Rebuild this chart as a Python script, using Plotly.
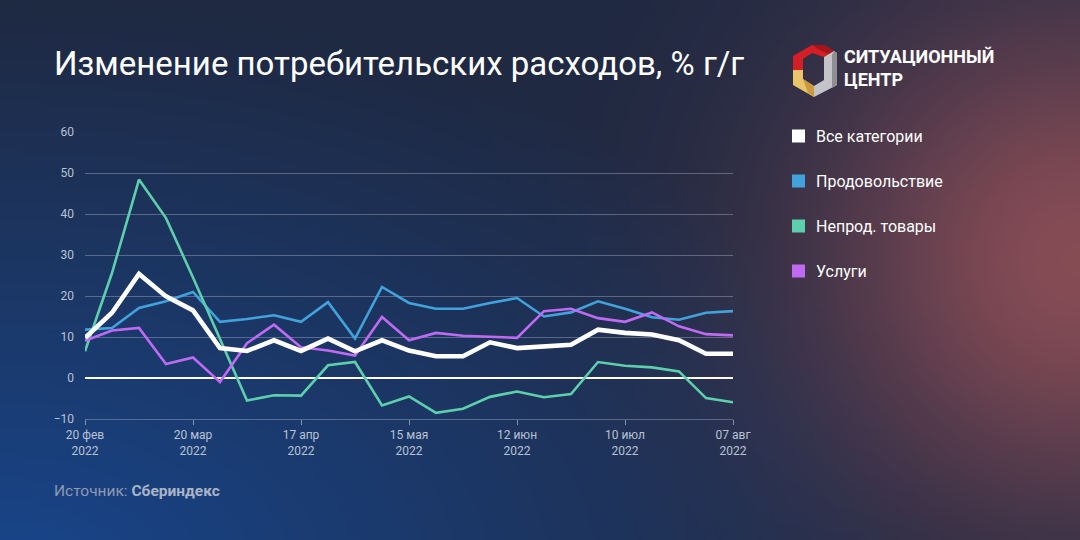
import base64
import struct
import zlib

import numpy as np
import plotly.graph_objects as go

# ---------------- data ----------------
dates = ["2022-02-20", "2022-02-27", "2022-03-06", "2022-03-13", "2022-03-20",
         "2022-03-27", "2022-04-03", "2022-04-10", "2022-04-17", "2022-04-24",
         "2022-05-01", "2022-05-08", "2022-05-15", "2022-05-22", "2022-05-29",
         "2022-06-05", "2022-06-12", "2022-06-19", "2022-06-26", "2022-07-03",
         "2022-07-10", "2022-07-17", "2022-07-24", "2022-07-31", "2022-08-07"]

all_categories = [9.8, 15.9, 25.4, 19.9, 16.5, 7.3, 6.6, 9.2, 6.6, 9.6, 6.5, 9.2, 6.7,
                  5.3, 5.3, 8.7, 7.3, 7.7, 8.1, 11.8, 11.0, 10.6, 9.2, 5.9, 5.9]
food = [11.8, 12.2, 17.1, 18.7, 21.0, 13.7, 14.4, 15.3, 13.7, 18.5, 9.6, 22.2, 18.3,
        16.9, 16.9, 18.3, 19.5, 15.0, 16.0, 18.7, 16.9, 14.8, 14.2, 15.9, 16.3]
non_food = [6.5, 25.6, 48.4, 39.0, 24.5, 9.5, -5.5, -4.2, -4.3, 3.1, 3.9, -6.7, -4.5,
            -8.5, -7.5, -4.6, -3.3, -4.7, -3.9, 3.9, 3.0, 2.6, 1.6, -4.9, -5.9]
services = [9.1, 11.6, 12.2, 3.4, 5.0, -1.0, 8.5, 13.0, 7.5, 6.7, 5.5, 14.9, 9.2,
            11.0, 10.3, 10.0, 9.8, 16.3, 16.9, 14.6, 13.7, 16.0, 12.6, 10.7, 10.4]

series_names = ["Все категории", "Продовольствие", "Непрод. товары", "Услуги"]

tick_dates = ["2022-02-20", "2022-03-20", "2022-04-17", "2022-05-15",
              "2022-06-12", "2022-07-10", "2022-08-07"]
tick_labels = ["20 фев<br>2022", "20 мар<br>2022", "17 апр<br>2022", "15 мая<br>2022",
               "12 июн<br>2022", "10 июл<br>2022", "07 авг<br>2022"]
y_ticks = [-10, 0, 10, 20, 30, 40, 50, 60]

# ---------------- styling ----------------
W, H = 1080, 540
ML, MR, MT, MB = 85, 347, 132, 121
PW, PH = W - ML - MR, H - MT - MB

C_WHITE = "#ffffff"
C_FOOD = "#41a2dc"
C_NONFOOD = "#5ecfac"
C_SERV = "#bf6af2"
GRID = "rgba(200,205,220,0.35)"


# ---------------- background gradient image ----------------
def make_bg(w=270, h=135):
    ys, xs = np.mgrid[0:h, 0:w].astype(float)
    X = xs / (w - 1) * W
    Y = ys / (h - 1) * H
    base = np.array([31, 41, 66], float)
    blue = np.array([24, 70, 140], float)
    red = np.array([140, 78, 86], float)
    d = np.sqrt((X / 950.0) ** 2 + ((580 - Y) / 580.0) ** 2)
    wb = np.clip(1 - d, 0, 1)[..., None]
    img = base * (1 - wb) + blue * wb
    dr = np.sqrt((X - 1080) ** 2 + (Y - 260) ** 2)
    wr = (0.95 * np.exp(-(dr / 265.0) ** 2))[..., None]
    img = img * (1 - wr) + red * wr
    arr = np.clip(img, 0, 255).astype(np.uint8)
    raw = b"".join(b"\x00" + arr[r].tobytes() for r in range(h))

    def chunk(t, data):
        return struct.pack(">I", len(data)) + t + data + struct.pack(">I", zlib.crc32(t + data) & 0xffffffff)

    png = (b"\x89PNG\r\n\x1a\n"
           + chunk(b"IHDR", struct.pack(">IIBBBBB", w, h, 8, 2, 0, 0, 0))
           + chunk(b"IDAT", zlib.compress(raw, 9))
           + chunk(b"IEND", b""))
    return "data:image/png;base64," + base64.b64encode(png).decode()


fig = go.Figure()

fig.add_trace(go.Scatter(x=dates, y=food, mode="lines", name=series_names[1],
                         line=dict(color=C_FOOD, width=2.6), showlegend=False))
fig.add_trace(go.Scatter(x=dates, y=non_food, mode="lines", name=series_names[2],
                         line=dict(color=C_NONFOOD, width=2.6), showlegend=False))
fig.add_trace(go.Scatter(x=dates, y=services, mode="lines", name=series_names[3],
                         line=dict(color=C_SERV, width=2.6), showlegend=False))
fig.add_trace(go.Scatter(x=dates, y=all_categories, mode="lines", name=series_names[0],
                         line=dict(color=C_WHITE, width=4.6), showlegend=False))

fig.add_layout_image(dict(source=make_bg(), xref="paper", yref="paper",
                          x=-ML / PW, y=1 + MT / PH, sizex=W / PW, sizey=H / PH,
                          sizing="stretch", layer="below", xanchor="left", yanchor="top"))

shapes = []
annotations = []

# legend (manual)
leg_colors = [C_WHITE, C_FOOD, C_NONFOOD, C_SERV]
leg_y = [136, 181, 226, 271]
for name, col, yy in zip(series_names, leg_colors, leg_y):
    shapes.append(dict(type="rect", xref="paper", yref="paper",
                       x0=(792 - ML) / PW, x1=(805 - ML) / PW,
                       y0=1 - (yy - 6.5 - MT) / PH, y1=1 - (yy + 6.5 - MT) / PH,
                       fillcolor=col, line=dict(width=0)))
    annotations.append(dict(text=name, xref="paper", yref="paper",
                            x=(814 - ML) / PW, y=1 - (yy - MT) / PH,
                            xanchor="left", yanchor="middle", showarrow=False,
                            font=dict(family="Roboto", size=16, color="#ffffff")))

# title
annotations.append(dict(text="Изменение потребительских расходов, % г/г",
                        xref="paper", yref="paper", x=(52 - ML) / PW, y=1 - (63 - MT) / PH,
                        xanchor="left", yanchor="middle", showarrow=False,
                        font=dict(family="Roboto", size=33, color="#ffffff")))

# source
annotations.append(dict(text="Источник: <b><span style='color:#aab4c8'>Сбериндекс</span></b>",
                        xref="paper", yref="paper", x=(52 - ML) / PW, y=1 - (491 - MT) / PH,
                        xanchor="left", yanchor="middle", showarrow=False,
                        font=dict(family="Roboto", size=15.5, color="#8e9ab3")))

# logo text
annotations.append(dict(text="<b>СИТУАЦИОННЫЙ<br>ЦЕНТР</b>", xref="paper", yref="paper",
                        x=(842 - ML) / PW, y=1 - (68.5 - MT) / PH, xanchor="left", yanchor="middle",
                        align="left", showarrow=False,
                        font=dict(family="Roboto", size=18, color="#ffffff")))


def px_path(points):
    s = ""
    for i, (px, py) in enumerate(points):
        xx = (px - ML) / PW
        yy = 1 - (py - MT) / PH
        s += ("M" if i == 0 else "L") + f"{xx:.5f},{yy:.5f}"
    return s + "Z"


logo_parts = [
    ([(793, 56), (812, 45), (824, 45), (834, 51), (824, 57), (812, 53), (803, 59), (803, 70), (793, 70)], "#d41f26"),
    ([(812, 45), (824, 45), (834, 51), (828, 54), (818, 49)], "#a8141b"),
    ([(793, 70), (803, 70), (803, 79), (814, 86), (814, 97), (793, 85)], "#e9c46a"),
    ([(803, 79), (814, 86), (814, 97), (808, 93)], "#c99a3e"),
    ([(824, 57), (834, 51), (837, 53), (837, 85), (814, 97), (814, 86), (824, 80)], "#c4c4c8"),
    ([(834, 51), (837, 53), (837, 85), (832, 88), (832, 55)], "#8e8e94"),
]
for pts, col in logo_parts:
    shapes.append(dict(type="path", xref="paper", yref="paper", path=px_path(pts),
                       fillcolor=col, line=dict(width=0)))

fig.update_layout(
    width=W, height=H,
    margin=dict(l=ML, r=MR, t=MT, b=MB),
    paper_bgcolor="#20283e",
    plot_bgcolor="rgba(0,0,0,0)",
    showlegend=False,
    shapes=shapes,
    annotations=annotations,
    font=dict(family="Roboto", color="#b9c2d3", size=12),
    xaxis=dict(
        type="date",
        range=[dates[0], dates[-1]],
        tickvals=tick_dates, ticktext=tick_labels,
        showgrid=False, zeroline=False,
        showline=True, linecolor=GRID, linewidth=1,
        ticks="outside", ticklen=5, tickcolor="rgba(200,205,215,0.6)", tickwidth=1,
        tickfont=dict(family="Roboto", size=12, color="#b9c2d3"),
    ),
    yaxis=dict(
        range=[-10, 60],
        tickvals=y_ticks,
        showgrid=True, gridcolor=GRID, gridwidth=1,
        zeroline=True, zerolinecolor="#ffffff", zerolinewidth=1.6,
        ticks="", ticklabelstandoff=10,
        tickfont=dict(family="Roboto", size=12, color="#b9c2d3"),
    ),
)

fig.write_html("out.html", config={"displayModeBar": False},
               post_script="document.body.style.margin='0';")
